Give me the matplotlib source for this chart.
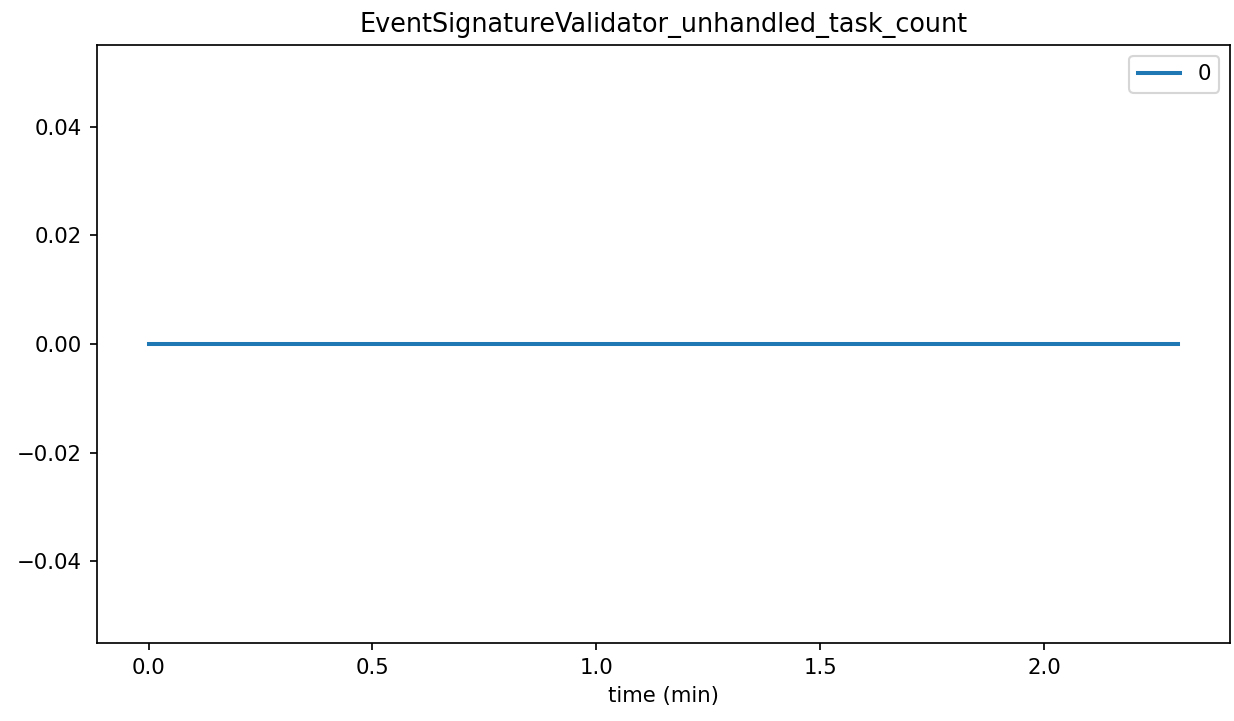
import matplotlib
matplotlib.use('Agg')
import matplotlib.pyplot as plt

# unhandled task count sampled over the run (minutes)
time_min = [0.0, 0.5, 1.0, 1.5, 2.0, 2.3]
task_count = [0, 0, 0, 0, 0, 0]
series_label = '0'

dpi = 153
fig = plt.figure(figsize=(1234 / dpi, 721 / dpi), dpi=dpi)
ax = fig.add_axes([97 / 1234, 1 - 643 / 721, (1230 - 97) / 1234, (643 - 45) / 721])

ax.plot(time_min, task_count, label=series_label, color='#1f77b4', linewidth=1.9)

ax.set_xlabel('time (min)')
ax.set_title('EventSignatureValidator_unhandled_task_count')
ax.legend(loc='upper right')

fig.savefig('out.png', dpi=dpi)
